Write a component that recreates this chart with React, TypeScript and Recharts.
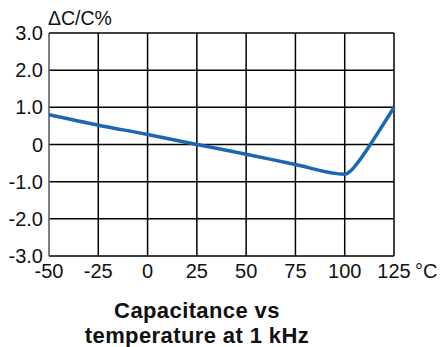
import React from 'react';
import { LineChart, Line, XAxis, YAxis, ReferenceLine } from 'recharts';

const temperatures = [-50, -25, 0, 25, 50, 75, 100, 103, 107, 113, 120, 125];
const deltaC = [0.8, 0.52, 0.27, 0.0, -0.26, -0.54, -0.8, -0.71, -0.46, 0.0, 0.58, 1.0];
const xTicks = [-50, -25, 0, 25, 50, 75, 100, 125];
const yTicks = [-3, -2, -1, 0, 1, 2, 3];
const yTickLabels: Record<string, string> = { '-3': '-3.0', '-2': '-2.0', '-1': '-1.0', '0': '0', '1': '1.0', '2': '2.0', '3': '3.0' };

const data = temperatures.map((t, i) => ({ t, v: deltaC[i] }));

const FONT = '"Liberation Sans", Arial, Helvetica, sans-serif';

export default function App() {
  return (
    <div style={{ position: 'absolute', left: 0, top: 0, width: 440, height: 347, background: '#fff' }}>
      <LineChart width={440} height={347} data={data} margin={{ top: 33, right: 46, bottom: 61, left: 0 }}>
        <XAxis
          dataKey="t"
          type="number"
          domain={[-50, 125]}
          ticks={xTicks}
          interval={0}
          height={30}
          axisLine={false}
          tickLine={false}
          tickSize={0}
          tickMargin={8}
          tick={{ fill: '#111', fontSize: 20, fontFamily: FONT }}
        />
        <YAxis
          type="number"
          domain={[-3, 3]}
          ticks={yTicks}
          interval={0}
          width={49}
          axisLine={false}
          tickLine={false}
          tickSize={0}
          tickMargin={6}
          tickFormatter={(v: number) => yTickLabels[String(v)]}
          tick={{ fill: '#111', fontSize: 20, fontFamily: FONT }}
        />
        {yTicks.map((y) => (
          <ReferenceLine key={'h' + y} y={y} stroke="#000" strokeWidth={1.5} />
        ))}
        {xTicks.map((x) => (
          <ReferenceLine key={'v' + x} x={x} stroke={x === -50 ? '#555' : '#000'} strokeWidth={1.5} />
        ))}
        <Line
          type="monotone"
          dataKey="v"
          stroke="#1a68b2"
          strokeWidth={3.5}
          dot={false}
          isAnimationActive={false}
        />
        <text x={48} y={25} fontSize={19.5} fontFamily={FONT} fill="#111">ΔC/C%</text>
        <text x={415} y={278} fontSize={20} fontFamily={FONT} fill="#111">°C</text>
        <text x={197} y={318} fontSize={22} letterSpacing={0.4} fontWeight="bold" textAnchor="middle" fontFamily={FONT} fill="#111">Capacitance vs</text>
        <text x={197} y={343} fontSize={22} letterSpacing={0.4} fontWeight="bold" textAnchor="middle" fontFamily={FONT} fill="#111">temperature at 1 kHz</text>
      </LineChart>
    </div>
  );
}
